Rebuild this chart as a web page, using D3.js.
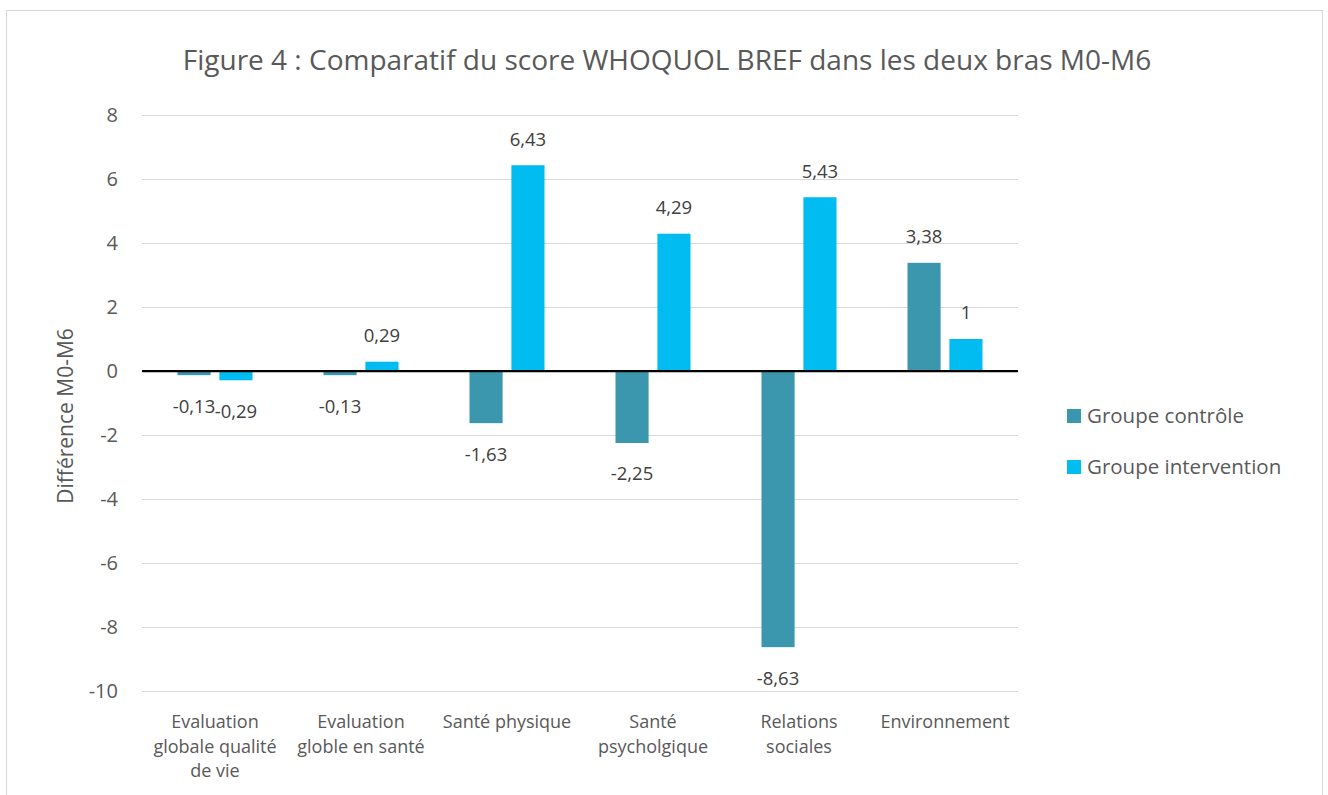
<!DOCTYPE html>
<html>
<head>
<meta charset="utf-8">
<script src="https://cdn.jsdelivr.net/npm/d3@7"></script>
<style>
    body { margin: 0; background: #fff; }
    svg text { font-family: "Open Sans", "Noto Sans", sans-serif; }
</style>
</head>
<body>
<div id="chart"></div>
<script>
// data
var categories = [
    "Evaluation globale qualité de vie",
    "Evaluation globle en santé",
    "Santé physique",
    "Santé psycholgique",
    "Relations sociales",
    "Environnement"
];
// how the category labels are broken in the figure
var category_lines = [
    ["Evaluation", "globale qualité", "de vie"],
    ["Evaluation", "globle en santé"],
    ["Santé physique"],
    ["Santé", "psycholgique"],
    ["Relations", "sociales"],
    ["Environnement"]
];
var series_names = ["Groupe contrôle", "Groupe intervention"];
var controle = [-0.13, -0.13, -1.63, -2.25, -8.63, 3.38];
var intervention = [-0.29, 0.29, 6.43, 4.29, 5.43, 1];
var y_ticks = [8, 6, 4, 2, 0, -2, -4, -6, -8, -10];

var title = "Figure 4 : Comparatif du score WHOQUOL BREF dans les deux bras M0-M6";
var y_title = "Différence M0-M6";

// layout
var width = 1328, height = 795;
var plot = { left: 142, right: 1018, top: 115, bottom: 691 };
var colors = ["#3A97AE", "#00BCF1"];
var text_color = "#595959";

var svg = d3.select("#chart").append("svg")
    .attr("width", width)
    .attr("height", height);

// chart border
svg.append("rect")
    .attr("x", 6.5)
    .attr("y", 10.5)
    .attr("width", 1316)
    .attr("height", 800)
    .attr("fill", "#fff")
    .attr("stroke", "#d9d9d9");

var x0 = d3.scaleBand()
    .domain(categories)
    .range([plot.left, plot.right]);

var x1 = d3.scaleBand()
    .domain(series_names)
    .range([x0.bandwidth() / 2 - 37.5, x0.bandwidth() / 2 + 37.5])
    .paddingInner(0.21);

var y = d3.scaleLinear()
    .domain([-10, 8])
    .range([plot.bottom, plot.top]);

// gridlines
svg.append("g").selectAll("line")
    .data(y_ticks.filter(function(t) { return t !== 0; }))
    .enter().append("line")
    .attr("x1", plot.left)
    .attr("x2", plot.right)
    .attr("y1", function(d) { return Math.round(y(d)) + 0.5; })
    .attr("y2", function(d) { return Math.round(y(d)) + 0.5; })
    .attr("stroke", "#d9d9d9")
    .attr("stroke-width", 1);

// y axis labels
var y_axis = svg.append("g")
    .attr("transform", "translate(" + (plot.left - 24) + ",0)")
    .call(d3.axisLeft(y).tickValues(y_ticks).tickSize(0).tickPadding(0)
        .tickFormat(function(d) { return d3.format("d")(d).replace("−", "-"); }));
y_axis.select(".domain").remove();
y_axis.selectAll("text")
    .attr("fill", text_color)
    .style("font-size", "20px");

svg.append("text")
    .attr("transform", "translate(66,416) rotate(-90)")
    .attr("text-anchor", "middle")
    .attr("dy", "0.35em")
    .attr("fill", text_color)
    .style("font-size", "21px")
    .text(y_title);

// bars
var rows = categories.map(function(c, i) {
    return { cat: c, values: [controle[i], intervention[i]] };
});

var groups = svg.append("g").selectAll("g")
    .data(rows)
    .enter().append("g")
    .attr("transform", function(d) { return "translate(" + x0(d.cat) + ",0)"; });

var cells = groups.selectAll("g")
    .data(function(d) {
        return d.values.map(function(v, j) { return { name: series_names[j], value: v, j: j }; });
    })
    .enter().append("g");

cells.append("rect")
    .attr("x", function(d) { return x1(d.name); })
    .attr("width", x1.bandwidth())
    .attr("y", function(d) { return y(Math.max(0, d.value)); })
    .attr("height", function(d) { return Math.abs(y(d.value) - y(0)); })
    .attr("fill", function(d) { return colors[d.j]; });

cells.append("text")
    .attr("x", function(d) { return x1(d.name) + x1.bandwidth() / 2; })
    .attr("y", function(d) { return d.value >= 0 ? y(d.value) - 26 : y(d.value) + 31; })
    .attr("dy", "0.35em")
    .attr("text-anchor", "middle")
    .attr("fill", "#404040")
    .style("font-size", "18.5px")
    .text(function(d) { return d3.format(",")(d.value).replace(".", ",").replace("−", "-"); });

// zero line
svg.append("line")
    .attr("x1", plot.left)
    .attr("x2", plot.right)
    .attr("y1", y(0))
    .attr("y2", y(0))
    .attr("stroke", "#000")
    .attr("stroke-width", 2.25);

// category labels
var xl = svg.append("g").selectAll("text")
    .data(categories)
    .enter().append("text")
    .attr("x", function(d) { return x0(d) + x0.bandwidth() / 2; })
    .attr("y", 722)
    .attr("text-anchor", "middle")
    .attr("fill", text_color)
    .style("font-size", "18px");

xl.selectAll("tspan")
    .data(function(d, i) { return category_lines[i]; })
    .enter().append("tspan")
    .attr("x", function() { return d3.select(this.parentNode).attr("x"); })
    .attr("dy", function(d, i) { return i === 0 ? "0.35em" : "1.36em"; })
    .text(function(d) { return d; });

// title
svg.append("text")
    .attr("x", 667)
    .attr("y", 60)
    .attr("dy", "0.35em")
    .attr("text-anchor", "middle")
    .attr("fill", text_color)
    .style("font-size", "28px")
    .text(title);

// legend
var legend = svg.append("g").selectAll("g")
    .data(series_names)
    .enter().append("g")
    .attr("transform", function(d, i) { return "translate(1067," + (416 + i * 51) + ")"; });

legend.append("rect")
    .attr("x", 0)
    .attr("y", -7)
    .attr("width", 14)
    .attr("height", 14)
    .attr("fill", function(d, i) { return colors[i]; });

legend.append("text")
    .attr("x", 20)
    .attr("dy", "0.35em")
    .attr("fill", text_color)
    .style("font-size", "20.5px")
    .text(function(d) { return d; });
</script>
</body>
</html>
